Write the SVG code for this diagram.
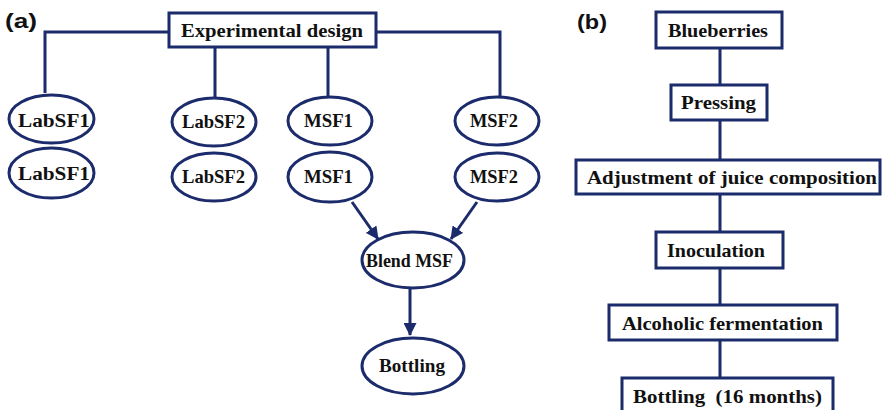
<svg xmlns="http://www.w3.org/2000/svg" width="882" height="410" viewBox="0 0 882 410">
<style>
.box{fill:#fff;stroke:#1b2b6b;stroke-width:3}
.ell{fill:#fff;stroke:#1b2b6b;stroke-width:3}
.ln{fill:none;stroke:#1b2b6b;stroke-width:3}
.t{font-family:"Liberation Serif","Times New Roman",serif;font-weight:bold;font-size:18px;fill:#111;text-anchor:start}
.bt{font-size:19px}
.lbl{font-family:"Liberation Sans",Arial,sans-serif;font-weight:bold;font-size:20px;fill:#111}
</style>
<defs>
<marker id="ah" markerUnits="userSpaceOnUse" markerWidth="13" markerHeight="13" viewBox="0 0 13 13" refX="12" refY="6.5" orient="auto">
<path d="M0,0 L13,6.5 L0,13 Z" fill="#1b2b6b"/>
</marker>
</defs>
<text class="lbl" x="5" y="28" textLength="32" lengthAdjust="spacingAndGlyphs">(a)</text>
<text class="lbl" x="577" y="29" textLength="30" lengthAdjust="spacingAndGlyphs">(b)</text>
<g id="connectors">
<polyline class="ln" points="45,93 45,32 169,32"/>
<polyline class="ln" points="376,32 500,32 500,97"/>
<line class="ln" x1="215" y1="47" x2="215" y2="98"/>
<line class="ln" x1="328" y1="47" x2="328" y2="97"/>
<line class="ln" x1="352" y1="202" x2="378" y2="239" marker-end="url(#ah)"/>
<line class="ln" x1="477" y1="202" x2="451" y2="239" marker-end="url(#ah)"/>
<line class="ln" x1="410" y1="288" x2="410" y2="335" marker-end="url(#ah)"/>
<line class="ln" x1="720" y1="48" x2="720" y2="85"/>
<line class="ln" x1="720" y1="120" x2="720" y2="160"/>
<line class="ln" x1="720" y1="194" x2="720" y2="232"/>
<line class="ln" x1="720" y1="268" x2="720" y2="305"/>
<line class="ln" x1="720" y1="340" x2="720" y2="378"/>
</g>
<g id="exp-design"><rect class="box" x="169" y="13" width="207" height="34"/><text class="t bt" x="181" y="37" textLength="182" lengthAdjust="spacingAndGlyphs">Experimental design</text></g>
<g id="labsf1-a"><ellipse class="ell" cx="51.5" cy="119" rx="42.5" ry="24"/><text class="t" x="18" y="127" textLength="72" lengthAdjust="spacingAndGlyphs">LabSF1</text></g>
<g id="labsf1-b"><ellipse class="ell" cx="51.5" cy="173" rx="42.5" ry="25"/><text class="t" x="18" y="180" textLength="72" lengthAdjust="spacingAndGlyphs">LabSF1</text></g>
<g id="labsf2-a"><ellipse class="ell" cx="214" cy="122" rx="42" ry="24"/><text class="t" x="182" y="128" textLength="63" lengthAdjust="spacingAndGlyphs">LabSF2</text></g>
<g id="labsf2-b"><ellipse class="ell" cx="214" cy="177" rx="42" ry="24"/><text class="t" x="182" y="183" textLength="63" lengthAdjust="spacingAndGlyphs">LabSF2</text></g>
<g id="msf1-a"><ellipse class="ell" cx="330" cy="121" rx="42" ry="24"/><text class="t" x="304" y="127" textLength="49" lengthAdjust="spacingAndGlyphs">MSF1</text></g>
<g id="msf1-b"><ellipse class="ell" cx="330" cy="177" rx="42" ry="25"/><text class="t" x="304" y="183" textLength="49" lengthAdjust="spacingAndGlyphs">MSF1</text></g>
<g id="msf2-a"><ellipse class="ell" cx="497" cy="121" rx="42" ry="24"/><text class="t" x="470" y="127" textLength="48" lengthAdjust="spacingAndGlyphs">MSF2</text></g>
<g id="msf2-b"><ellipse class="ell" cx="497" cy="177" rx="42" ry="24"/><text class="t" x="470" y="183" textLength="48" lengthAdjust="spacingAndGlyphs">MSF2</text></g>
<g id="blend"><ellipse class="ell" cx="413" cy="260" rx="51" ry="28"/><text class="t" x="366" y="267" textLength="87" lengthAdjust="spacingAndGlyphs">Blend MSF</text></g>
<g id="bottling-a"><ellipse class="ell" cx="413" cy="366" rx="51" ry="28"/><text class="t" x="379" y="372" textLength="66" lengthAdjust="spacingAndGlyphs">Bottling</text></g>
<g id="blueberries"><rect class="box" x="656" y="12" width="126" height="36"/><text class="t bt" x="668" y="37" textLength="100" lengthAdjust="spacingAndGlyphs">Blueberries</text></g>
<g id="pressing"><rect class="box" x="671" y="85" width="96" height="35"/><text class="t bt" x="681" y="109" textLength="75" lengthAdjust="spacingAndGlyphs">Pressing</text></g>
<g id="adjustment"><rect class="box" x="576" y="160" width="304" height="34"/><text class="t bt" x="587" y="184" textLength="290" lengthAdjust="spacingAndGlyphs">Adjustment of juice composition</text></g>
<g id="inoculation"><rect class="box" x="656" y="232" width="127" height="36"/><text class="t bt" x="667" y="257" textLength="98" lengthAdjust="spacingAndGlyphs">Inoculation</text></g>
<g id="alcoholic"><rect class="box" x="609" y="305" width="228" height="35"/><text class="t bt" x="622" y="330" textLength="201" lengthAdjust="spacingAndGlyphs">Alcoholic fermentation</text></g>
<g id="bottling-b"><rect class="box" x="622" y="378" width="211" height="36"/><text class="t bt" x="633" y="403" textLength="189" lengthAdjust="spacingAndGlyphs" xml:space="preserve">Bottling  (16 months)</text></g>
</svg>
